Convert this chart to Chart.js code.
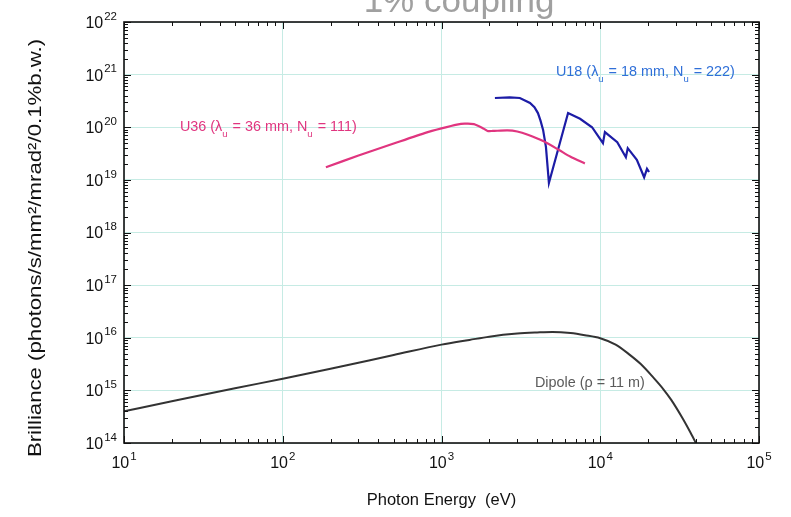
<!DOCTYPE html>
<html>
<head>
<meta charset="utf-8">
<script src="https://cdn.jsdelivr.net/npm/chart.js@4/dist/chart.umd.min.js"></script>
<style>
  html, body { margin: 0; padding: 0; background: #ffffff; }
  #wrap { position: relative; width: 791px; height: 517px; }
</style>
</head>
<body>
<div id="wrap"><canvas id="chart" width="791" height="517"></canvas></div>
<script>
// Decade exponents used for the axis tick labels
const xTickExponents = [1, 2, 3, 4, 5];
const yTickExponents = [14, 15, 16, 17, 18, 19, 20, 21, 22];

// Bending magnet (dipole, rho = 11 m)
const dipoleEnergy = [10, 20, 50, 100, 200, 500, 1000, 1500, 2000, 3000, 4000, 5000, 6500, 8000,
  10000, 12500, 15000, 18000, 21500, 25000, 28000, 33000, 37000, 41000];
const dipoleBrilliance = [4.0e14, 6.2e14, 1.1e15, 1.66e15, 2.57e15, 4.7e15, 7.4e15, 9.1e15, 1.05e16,
  1.2e16, 1.26e16, 1.29e16, 1.23e16, 1.12e16, 9.8e15, 7.4e15, 5.0e15, 3.16e15, 1.78e15, 1.05e15,
  6.6e14, 2.95e14, 1.58e14, 8.7e13];

// Undulator U36 (lambda_u = 36 mm, N_u = 111)
const u36Energy = [187, 300, 500, 800, 1000, 1250, 1400, 1600, 1800, 1950, 2100, 2600, 3000, 3500,
  4400, 5500, 6500, 8000];
const u36Brilliance = [1.74e19, 2.9e19, 4.9e19, 7.9e19, 9.5e19, 1.12e20, 1.17e20, 1.15e20, 9.8e19,
  8.5e19, 8.5e19, 8.7e19, 8.3e19, 7.2e19, 5.4e19, 3.7e19, 2.75e19, 2.05e19];

// Undulator U18 (lambda_u = 18 mm, N_u = 222)
const u18Energy = [2170, 2690, 3115, 3610, 3850, 4050, 4200, 4365, 4450, 4550, 4750, 6270, 7460,
  8880, 10400, 10700, 12800, 14500, 14900, 17000, 18900, 19700, 20300];
const u18Brilliance = [3.6e20, 3.7e20, 3.6e20, 2.9e20, 2.4e20, 1.86e20, 1.35e20, 8.9e19, 6.3e19,
  4.2e19, 8.7e18, 1.86e20, 1.45e20, 1.0e20, 5.0e19, 8.1e19, 5.2e19, 2.7e19, 4.0e19, 2.4e19,
  1.12e19, 1.62e19, 1.41e19];

const FONT = '"Liberation Sans", Arial, Helvetica, sans-serif';
const toPoints = (xs, ys) => xs.map((v, i) => ({ x: v, y: ys[i] }));

// Curve annotations, anchored in data coordinates (left edge, vertical middle)
const curveLabels = [
  { at: [22.5, 1.0e20], color: '#e0357f',
    parts: [['U36 (λ'], ['u', 1], [' = 36 mm, N'], ['u', 1], [' = 111)']] },
  { at: [5260, 1.12e21], color: '#2f6fd8',
    parts: [['U18 (λ'], ['u', 1], [' = 18 mm, N'], ['u', 1], [' = 222)']] },
  { at: [3880, 1.38e15], color: '#5a5a5a',
    parts: [['Dipole (ρ = 11 m)']] }
];

function drawPower(ctx, base, exp, px, py, align) {
  ctx.font = '16px ' + FONT;
  const wb = ctx.measureText(base).width;
  ctx.font = '11.5px ' + FONT;
  const we = ctx.measureText(exp).width;
  const gap = 1;
  let left = px;
  if (align === 'right') left = px - wb - gap - we;
  else if (align === 'center') left = px - (wb + gap + we) / 2;
  ctx.textBaseline = 'middle';
  ctx.textAlign = 'left';
  ctx.font = '16px ' + FONT;
  ctx.fillText(base, left, py);
  ctx.font = '11.5px ' + FONT;
  ctx.fillText(exp, left + wb + gap, py - 7);
}

const framePlugin = {
  id: 'framePlugin',
  afterDraw(chart) {
    const { ctx, chartArea: a, scales: { x, y } } = chart;
    ctx.save();

    // inward ticks on all four sides
    ctx.strokeStyle = '#111';
    ctx.lineWidth = 1;
    ctx.beginPath();
    const xTop = Math.pow(10, xTickExponents[xTickExponents.length - 1]);
    for (let e = xTickExponents[0]; e <= xTickExponents[xTickExponents.length - 1]; e++) {
      for (let m = 1; m < 10; m++) {
        const v = m * Math.pow(10, e);
        if (v > xTop) break;
        const px = Math.round(x.getPixelForValue(v)) + 0.5;
        const len = m === 1 ? 7 : 4;
        ctx.moveTo(px, a.bottom); ctx.lineTo(px, a.bottom - len);
        ctx.moveTo(px, a.top); ctx.lineTo(px, a.top + len);
      }
    }
    const yTop = Math.pow(10, yTickExponents[yTickExponents.length - 1]);
    for (let e = yTickExponents[0]; e <= yTickExponents[yTickExponents.length - 1]; e++) {
      for (let m = 1; m < 10; m++) {
        const v = m * Math.pow(10, e);
        if (v > yTop) break;
        const py = Math.round(y.getPixelForValue(v)) + 0.5;
        const len = m === 1 ? 7 : 4;
        ctx.moveTo(a.left, py); ctx.lineTo(a.left + len, py);
        ctx.moveTo(a.right, py); ctx.lineTo(a.right - len, py);
      }
    }
    ctx.stroke();

    // frame
    ctx.lineWidth = 1.6;
    ctx.strokeStyle = '#111';
    ctx.strokeRect(a.left, a.top, a.right - a.left, a.bottom - a.top);

    // tick labels with superscript exponents
    ctx.fillStyle = '#111';
    xTickExponents.forEach(e => {
      drawPower(ctx, '10', String(e), x.getPixelForValue(Math.pow(10, e)), a.bottom + 21, 'center');
    });
    yTickExponents.forEach(e => {
      drawPower(ctx, '10', String(e), a.left - 7, y.getPixelForValue(Math.pow(10, e)) + 1.5, 'right');
    });

    // axis titles
    ctx.fillStyle = '#111';
    ctx.textAlign = 'center';
    ctx.textBaseline = 'middle';
    ctx.font = '16.5px ' + FONT;
    ctx.fillText('Photon Energy  (eV)', (a.left + a.right) / 2, 500);
    ctx.save();
    ctx.translate(36, 248);
    ctx.rotate(-Math.PI / 2);
    ctx.scale(1.2, 1);
    ctx.font = '18.5px ' + FONT;
    ctx.fillText('Brilliance (photons/s/mm²/mrad²/0.1%b.w.)', 0, 0);
    ctx.restore();

    // curve annotations
    curveLabels.forEach(l => {
      let px = x.getPixelForValue(l.at[0]);
      const py = y.getPixelForValue(l.at[1]);
      ctx.fillStyle = l.color;
      ctx.textAlign = 'left';
      ctx.textBaseline = 'middle';
      l.parts.forEach(([t, sub]) => {
        ctx.font = (sub ? '9.5px ' : '14.4px ') + FONT;
        ctx.fillText(t, px, sub ? py + 7 : py);
        px += ctx.measureText(t).width + (sub ? 1 : 0);
      });
    });

    // heading, partly above the canvas edge
    ctx.fillStyle = '#a0a0a0';
    ctx.font = '35px ' + FONT;
    ctx.textAlign = 'center';
    ctx.textBaseline = 'alphabetic';
    ctx.fillText('1% coupling', 459, 12);

    ctx.restore();
  }
};

const decadeTicks = exps => scale => {
  scale.ticks = exps.map(e => ({ value: Math.pow(10, e) }));
};

new Chart(document.getElementById('chart'), {
  type: 'line',
  data: {
    datasets: [
      { label: 'Dipole', data: toPoints(dipoleEnergy, dipoleBrilliance), borderColor: '#333333',
        borderWidth: 2, pointRadius: 0, cubicInterpolationMode: 'monotone' },
      { label: 'U36', data: toPoints(u36Energy, u36Brilliance), borderColor: '#e0357f',
        borderWidth: 2.2, pointRadius: 0, tension: 0.2 },
      { label: 'U18', data: toPoints(u18Energy, u18Brilliance), borderColor: '#1c1ca6',
        borderWidth: 2.2, pointRadius: 0, tension: 0 }
    ]
  },
  options: {
    responsive: false,
    animation: false,
    layout: { padding: { left: 124, right: 32, top: 22, bottom: 74 } },
    plugins: { legend: { display: false }, tooltip: { enabled: false }, title: { display: false } },
    scales: {
      x: {
        type: 'logarithmic', min: 10, max: 1e5,
        afterBuildTicks: decadeTicks(xTickExponents),
        ticks: { display: false },
        grid: { color: '#c6ebe4', lineWidth: 1, drawTicks: false },
        border: { display: false }
      },
      y: {
        type: 'logarithmic', min: 1e14, max: 1e22,
        afterBuildTicks: decadeTicks(yTickExponents),
        ticks: { display: false },
        grid: { color: '#c6ebe4', lineWidth: 1, drawTicks: false },
        border: { display: false }
      }
    }
  },
  plugins: [framePlugin]
});
</script>
</body>
</html>
